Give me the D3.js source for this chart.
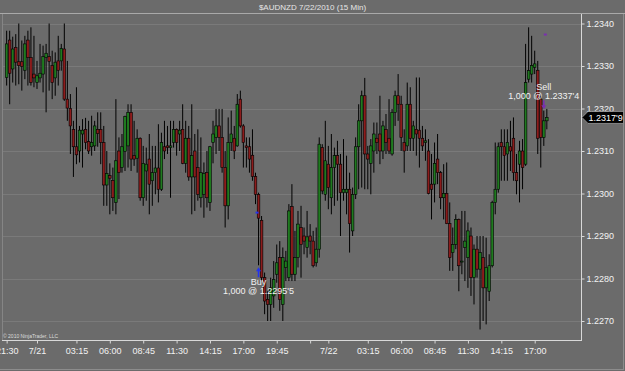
<!DOCTYPE html>
<html>
<head>
<meta charset="utf-8">
<script src="https://cdn.jsdelivr.net/npm/d3@7"></script>
<style>
  body { margin: 0; background: #6b6b6b; }
  svg { display: block; font-family: "Liberation Sans", Arial, sans-serif; }
</style>
</head>
<body>
<div id="chart"></div>
<script>
// 15 min bars, bar 0 = 7/21 00:00
const firstBar = -10

const opens = [
  1.23273, 1.23361, 1.23293, 1.23344, 1.23310, 1.23310, 1.23290, 1.23361, 1.23320, 1.23281,
  1.23261, 1.23272, 1.23281, 1.23320, 1.23322, 1.23301, 1.23272, 1.23312, 1.23312, 1.23340,
  1.23222, 1.23200, 1.23151, 1.23110, 1.23100, 1.23140, 1.23151, 1.23122, 1.23110, 1.23112,
  1.23151, 1.23151, 1.23120, 1.23020, 1.23042, 1.23031, 1.22979, 1.23100, 1.23061, 1.23099,
  1.23112, 1.23191, 1.23089, 1.23083, 1.23130, 1.22990, 1.23053, 1.23081, 1.23030, 1.23049,
  1.23060, 1.23010, 1.23110, 1.23112, 1.23108, 1.23120, 1.23151, 1.23140, 1.23151, 1.23071,
  1.23130, 1.23039, 1.23100, 1.23061, 1.22990, 1.22998, 1.23049, 1.22979, 1.23120, 1.23132,
  1.23159, 1.23132, 1.23061, 1.22971, 1.23120, 1.23130, 1.23112, 1.23222, 1.23159, 1.23112,
  1.23110, 1.23090, 1.23040, 1.22998, 1.22937, 1.22802, 1.22751, 1.22739, 1.22759, 1.22810,
  1.22849, 1.22739, 1.22826, 1.22802, 1.22969, 1.22810, 1.22849, 1.22920, 1.22900, 1.22873,
  1.22900, 1.22888, 1.22837, 1.22869, 1.23108, 1.22998, 1.23069, 1.22990, 1.23061, 1.23089,
  1.23069, 1.23002, 1.23002, 1.23010, 1.22912, 1.22998, 1.23110, 1.23171, 1.23230, 1.23093,
  1.23071, 1.23100, 1.23130, 1.23140, 1.23100, 1.23151, 1.23130, 1.23093, 1.23191, 1.23230,
  1.23210, 1.23120, 1.23112, 1.23210, 1.23130, 1.23151, 1.23149, 1.23130, 1.23120, 1.23100,
  1.23022, 1.23022, 1.23081, 1.23049, 1.22990, 1.23000, 1.22929, 1.22861, 1.22880, 1.22939,
  1.22840, 1.22873, 1.22849, 1.22900, 1.22802, 1.22869, 1.22822, 1.22849, 1.22778, 1.22770,
  1.22830, 1.22979, 1.23010, 1.23120, 1.23110, 1.23093, 1.23110, 1.23130, 1.23049, 1.23069,
  1.23100, 1.23069, 1.23269, 1.23281, 1.23297, 1.23290, 1.23222, 1.23132, 1.23171
]

const highs = [
  1.23383, 1.23383, 1.23369, 1.23375, 1.23400, 1.23360, 1.23371, 1.23383, 1.23391, 1.23371,
  1.23312, 1.23352, 1.23348, 1.23352, 1.23400, 1.23336, 1.23332, 1.23371, 1.23352, 1.23400,
  1.23312, 1.23234, 1.23171, 1.23250, 1.23159, 1.23175, 1.23178, 1.23171, 1.23183, 1.23171,
  1.23191, 1.23191, 1.23159, 1.23100, 1.23071, 1.23061, 1.23222, 1.23132, 1.23140, 1.23183,
  1.23210, 1.23210, 1.23171, 1.23151, 1.23132, 1.23112, 1.23108, 1.23140, 1.23112, 1.23112,
  1.23163, 1.23143, 1.23171, 1.23159, 1.23171, 1.23171, 1.23153, 1.23171, 1.23210, 1.23171,
  1.23159, 1.23210, 1.23140, 1.23151, 1.23132, 1.23073, 1.23100, 1.23112, 1.23171, 1.23199,
  1.23199, 1.23199, 1.23100, 1.23179, 1.23195, 1.23159, 1.23234, 1.23242, 1.23163, 1.23132,
  1.23132, 1.23151, 1.23049, 1.23002, 1.22947, 1.22814, 1.22770, 1.22802, 1.22841, 1.22880,
  1.22888, 1.22873, 1.22865, 1.22975, 1.23022, 1.22912, 1.22959, 1.22971, 1.22920, 1.22959,
  1.22928, 1.22912, 1.22920, 1.23132, 1.23116, 1.23171, 1.23112, 1.23140, 1.23108, 1.23124,
  1.23093, 1.23128, 1.23089, 1.23049, 1.23014, 1.23132, 1.23210, 1.23242, 1.23272, 1.23112,
  1.23128, 1.23167, 1.23167, 1.23230, 1.23171, 1.23187, 1.23222, 1.23199, 1.23242, 1.23281,
  1.23230, 1.23151, 1.23261, 1.23250, 1.23171, 1.23273, 1.23273, 1.23159, 1.23151, 1.23128,
  1.23093, 1.23120, 1.23140, 1.23053, 1.23069, 1.23073, 1.22979, 1.22920, 1.22951, 1.22941,
  1.22959, 1.22959, 1.22932, 1.22920, 1.22880, 1.22900, 1.22900, 1.22900, 1.22896, 1.22857,
  1.22983, 1.23120, 1.23120, 1.23151, 1.23151, 1.23151, 1.23171, 1.23179, 1.23093, 1.23124,
  1.23128, 1.23352, 1.23391, 1.23371, 1.23336, 1.23312, 1.23230, 1.23195, 1.23199
]

const lows = [
  1.23254, 1.23210, 1.23261, 1.23254, 1.23257, 1.23242, 1.23269, 1.23254, 1.23254, 1.23250,
  1.23246, 1.23261, 1.23238, 1.23191, 1.23242, 1.23222, 1.23230, 1.23254, 1.23289, 1.23218,
  1.23171, 1.23093, 1.23039, 1.23069, 1.23073, 1.23061, 1.23104, 1.23093, 1.23089, 1.23100,
  1.23110, 1.23069, 1.22971, 1.22971, 1.22951, 1.22959, 1.22951, 1.22987, 1.23049, 1.23053,
  1.23061, 1.23053, 1.23065, 1.23049, 1.22983, 1.22971, 1.22983, 1.22951, 1.22971, 1.22998,
  1.22979, 1.23006, 1.23081, 1.23093, 1.22990, 1.23108, 1.23089, 1.23100, 1.23069, 1.23049,
  1.23030, 1.22951, 1.22959, 1.22983, 1.22967, 1.22943, 1.22967, 1.22959, 1.23071, 1.23093,
  1.23100, 1.23049, 1.22920, 1.22939, 1.23100, 1.23081, 1.23110, 1.23155, 1.23061, 1.23061,
  1.23049, 1.23030, 1.22975, 1.22831, 1.22794, 1.22716, 1.22700, 1.22700, 1.22731, 1.22790,
  1.22724, 1.22700, 1.22794, 1.22794, 1.22794, 1.22794, 1.22826, 1.22802, 1.22857, 1.22849,
  1.22857, 1.22826, 1.22828, 1.22849, 1.22998, 1.22983, 1.22963, 1.22951, 1.22971, 1.22983,
  1.22900, 1.22983, 1.22951, 1.22861, 1.22900, 1.22987, 1.23010, 1.23014, 1.23010, 1.23010,
  1.22998, 1.23049, 1.23093, 1.23069, 1.23081, 1.23093, 1.23093, 1.23089, 1.23159, 1.23171,
  1.23100, 1.23049, 1.23100, 1.23100, 1.23100, 1.23089, 1.23061, 1.23100, 1.23077, 1.22998,
  1.22939, 1.22979, 1.23022, 1.22963, 1.22939, 1.22928, 1.22818, 1.22818, 1.22869, 1.22770,
  1.22810, 1.22794, 1.22778, 1.22759, 1.22739, 1.22802, 1.22680, 1.22700, 1.22692, 1.22747,
  1.22826, 1.22951, 1.23002, 1.23030, 1.23030, 1.23030, 1.23053, 1.23030, 1.22998, 1.22979,
  1.23010, 1.23065, 1.23261, 1.23261, 1.23281, 1.23093, 1.23061, 1.23112, 1.23151
]

const closes = [
  1.23352, 1.23283, 1.23340, 1.23309, 1.23301, 1.23299, 1.23352, 1.23320, 1.23261, 1.23272,
  1.23277, 1.23283, 1.23322, 1.23330, 1.23311, 1.23261, 1.23309, 1.23290, 1.23341, 1.23222,
  1.23201, 1.23159, 1.23110, 1.23091, 1.23149, 1.23149, 1.23120, 1.23100, 1.23120, 1.23159,
  1.23141, 1.23120, 1.23020, 1.23047, 1.23036, 1.22990, 1.23077, 1.23049, 1.23110, 1.23181,
  1.23191, 1.23081, 1.23081, 1.23130, 1.22990, 1.23071, 1.23069, 1.23022, 1.23049, 1.23060,
  1.23010, 1.23120, 1.23100, 1.23108, 1.23112, 1.23151, 1.23120, 1.23149, 1.23071, 1.23130,
  1.23039, 1.23089, 1.23039, 1.22998, 1.23049, 1.23047, 1.22990, 1.23110, 1.23140, 1.23159,
  1.23132, 1.23061, 1.22971, 1.23120, 1.23140, 1.23100, 1.23210, 1.23159, 1.23120, 1.23108,
  1.23081, 1.23040, 1.22998, 1.22942, 1.22802, 1.22747, 1.22739, 1.22778, 1.22798, 1.22837,
  1.22751, 1.22849, 1.22841, 1.22959, 1.22810, 1.22849, 1.22928, 1.22880, 1.22888, 1.22898,
  1.22888, 1.22830, 1.22869, 1.23116, 1.23006, 1.23077, 1.23014, 1.23061, 1.23089, 1.23069,
  1.23002, 1.23010, 1.23010, 1.22929, 1.22998, 1.23110, 1.23171, 1.23230, 1.23093, 1.23081,
  1.23112, 1.23140, 1.23120, 1.23100, 1.23159, 1.23120, 1.23100, 1.23191, 1.23230, 1.23210,
  1.23132, 1.23100, 1.23210, 1.23130, 1.23159, 1.23140, 1.23130, 1.23112, 1.23124, 1.23000,
  1.23010, 1.23071, 1.23049, 1.22990, 1.23000, 1.22929, 1.22849, 1.22880, 1.22939, 1.22830,
  1.22841, 1.22888, 1.22912, 1.22802, 1.22869, 1.22822, 1.22861, 1.22778, 1.22826, 1.22830,
  1.22979, 1.23010, 1.23110, 1.23110, 1.23089, 1.23120, 1.23100, 1.23049, 1.23030, 1.23100,
  1.23061, 1.23261, 1.23289, 1.23301, 1.23305, 1.23130, 1.23132, 1.23171, 1.23179
]

// time axis (bar index -> label)
const timeBars = [-10, 0, 13, 24, 35, 46, 57, 68, 79, 90, 96, 109, 120, 131, 142, 153, 164]
const timeLabels = ['21:30', '7/21', '03:15', '06:00', '08:45', '11:30', '14:15', '17:00', '19:45', '',
  '7/22', '03:15', '06:00', '08:45', '11:30', '14:15', '17:00']

const priceTicks = [1.2270, 1.2280, 1.2290, 1.2300, 1.2310, 1.2320, 1.2330, 1.2340]

// executions
const tradeNames = ['Buy', 'Sell']
const tradeBars = [73, 167]
const tradePrices = [1.22955, 1.23374]
const tradeQty = [1000, 1000]

const lastPrice = 1.23179

const W = 625
const H = 371
const plotLeft = 2
const plotRight = 581
const plotTop = 14
const plotBottom = 340

const fmt5 = (p) => {
  const s = p.toFixed(5)
  return s.slice(0, 6) + "'" + s.slice(6)
}

const drawSvg = () => {
  const n = Math.min(opens.length, highs.length, lows.length, closes.length)
  const bars = d3.range(n).map(i => ({
    bar: firstBar + i, o: opens[i], h: highs[i], l: lows[i], c: closes[i]
  }))

  const svg = d3.select('#chart')
    .append('svg')
    .attr('width', W)
    .attr('height', H)

  svg.append('rect')
    .attr('width', W)
    .attr('height', H)
    .attr('fill', '#6b6b6b')

  const xScale = d3.scaleLinear()
    .domain([0, 164])
    .range([37, 534.7])

  const yScale = d3.scaleLinear()
    .domain([1.2270, 1.2340])
    .range([321, 23.5])

  // title
  svg.append('text')
    .attr('x', W / 2)
    .attr('y', 9.5)
    .attr('text-anchor', 'middle')
    .attr('font-size', '8px')
    .attr('fill', '#e6e6e6')
    .text('$AUDNZD  7/22/2010 (15 Min)')

  svg.append('line')
    .attr('x1', 0).attr('x2', W)
    .attr('y1', 13.5).attr('y2', 13.5)
    .attr('stroke', '#a9a9a9')

  // outer frame
  svg.append('line')
    .attr('x1', 623.5).attr('x2', 623.5)
    .attr('y1', 14).attr('y2', 369)
    .attr('stroke', '#8c8c8c')
  svg.append('line')
    .attr('x1', 0).attr('x2', 624)
    .attr('y1', 369.5).attr('y2', 369.5)
    .attr('stroke', '#8c8c8c')

  svg.append('line')
    .attr('x1', plotLeft + 0.5).attr('x2', plotLeft + 0.5)
    .attr('y1', plotTop).attr('y2', plotBottom)
    .attr('stroke', '#858585')

  // grid
  svg.append('g')
    .selectAll('line')
    .data(priceTicks)
    .enter()
    .append('line')
    .attr('x1', plotLeft + 1)
    .attr('x2', plotRight)
    .attr('y1', d => Math.round(yScale(d)) + 0.5)
    .attr('y2', d => Math.round(yScale(d)) + 0.5)
    .attr('stroke', '#7a7a7a')

  svg.append('defs').append('clipPath')
    .attr('id', 'plot')
    .append('rect')
    .attr('x', plotLeft + 1)
    .attr('y', plotTop)
    .attr('width', plotRight - plotLeft - 1)
    .attr('height', plotBottom - plotTop)

  const plot = svg.append('g').attr('clip-path', 'url(#plot)')

  // wicks
  plot.selectAll('line.wick')
    .data(bars)
    .enter()
    .append('line')
    .attr('class', 'wick')
    .attr('x1', d => xScale(d.bar))
    .attr('x2', d => xScale(d.bar))
    .attr('y1', d => yScale(d.h))
    .attr('y2', d => yScale(d.l))
    .attr('stroke', '#000')
    .attr('stroke-width', 1)

  // bodies
  plot.selectAll('rect.body')
    .data(bars)
    .enter()
    .append('rect')
    .attr('class', 'body')
    .attr('x', d => xScale(d.bar) - 1.3)
    .attr('width', 2.6)
    .attr('y', d => yScale(Math.max(d.o, d.c)))
    .attr('height', d => Math.max(1, Math.abs(yScale(d.o) - yScale(d.c))))
    .attr('fill', d => d.c >= d.o ? '#1f7a1f' : '#8c1c1c')
    .attr('stroke', '#000')
    .attr('stroke-width', 0.6)

  // executions
  tradeNames.forEach((name, i) => {
    const b = bars.find(e => e.bar === tradeBars[i])
    const cx = xScale(tradeBars[i])
    const isBuy = name === 'Buy'
    const col = isBuy ? '#2233ee' : '#7a2fb0'

    plot.append('rect')
      .attr('x', isBuy ? cx - 3 : cx)
      .attr('y', yScale(tradePrices[i]) - 1)
      .attr('width', 3)
      .attr('height', 2)
      .attr('fill', col)

    const label = d3.format(',')(tradeQty[i]) + ' @ ' + fmt5(tradePrices[i])
    if (isBuy) {
      const y0 = yScale(b.l) + 2
      plot.append('path')
        .attr('d', `M${cx},${y0} L${cx + 2.5},${y0 + 4} L${cx + 0.8},${y0 + 4} L${cx + 0.8},${y0 + 10} L${cx - 0.8},${y0 + 10} L${cx - 0.8},${y0 + 4} L${cx - 2.5},${y0 + 4} Z`)
        .attr('fill', col)
      svg.append('text')
        .attr('x', cx).attr('y', y0 + 18)
        .attr('text-anchor', 'middle')
        .attr('font-size', '9px')
        .attr('fill', '#f2f2f2')
        .text(name)
      svg.append('text')
        .attr('x', cx).attr('y', y0 + 26.5)
        .attr('text-anchor', 'middle')
        .attr('font-size', '9px')
        .attr('fill', '#f2f2f2')
        .text(label)
    } else {
      const y0 = yScale(b.h) - 1.5
      plot.append('path')
        .attr('d', `M${cx},${y0} L${cx + 2.5},${y0 - 4} L${cx + 0.8},${y0 - 4} L${cx + 0.8},${y0 - 9} L${cx - 0.8},${y0 - 9} L${cx - 0.8},${y0 - 4} L${cx - 2.5},${y0 - 4} Z`)
        .attr('fill', col)
      svg.append('text')
        .attr('x', cx).attr('y', y0 - 10.5)
        .attr('text-anchor', 'middle')
        .attr('font-size', '9px')
        .attr('fill', '#f2f2f2')
        .text(label)
      svg.append('text')
        .attr('x', cx).attr('y', y0 - 19.5)
        .attr('text-anchor', 'middle')
        .attr('font-size', '9px')
        .attr('fill', '#f2f2f2')
        .text(name)
    }
  })

  svg.append('text')
    .attr('x', 3)
    .attr('y', 337.5)
    .attr('font-size', '5px')
    .attr('fill', '#dcdcdc')
    .text('© 2010 NinjaTrader, LLC')

  // x axis
  const xAxis = d3.axisBottom()
    .scale(xScale)
    .tickValues(timeBars)
    .tickFormat((d, i) => timeLabels[i])
    .tickSize(3)
    .tickPadding(4)

  const gx = svg.append('g')
    .attr('transform', 'translate(0,' + (plotBottom + 0.5) + ')')
    .call(xAxis)
  gx.select('.domain').remove()
  gx.selectAll('line').attr('stroke', '#d8d8d8')
  gx.selectAll('text')
    .attr('fill', '#f2f2f2')
    .attr('font-size', '9px')
    .attr('font-family', '"Liberation Sans", Arial, sans-serif')

  svg.append('line')
    .attr('x1', plotLeft).attr('x2', plotRight + 1)
    .attr('y1', plotBottom + 0.5).attr('y2', plotBottom + 0.5)
    .attr('stroke', '#d8d8d8')

  // y axis
  const yAxis = d3.axisRight()
    .scale(yScale)
    .tickValues(priceTicks)
    .tickFormat(d3.format('.4f'))
    .tickSize(3)
    .tickPadding(2)

  const gy = svg.append('g')
    .attr('transform', 'translate(' + (plotRight + 0.5) + ',0)')
    .call(yAxis)
  gy.select('.domain').remove()
  gy.selectAll('line').attr('stroke', '#d8d8d8')
  gy.selectAll('text')
    .attr('fill', '#f2f2f2')
    .attr('font-size', '9px')
    .attr('font-family', '"Liberation Sans", Arial, sans-serif')

  svg.append('line')
    .attr('x1', plotRight + 0.5).attr('x2', plotRight + 0.5)
    .attr('y1', plotTop).attr('y2', plotBottom + 1)
    .attr('stroke', '#d8d8d8')

  // last price marker
  const ly = yScale(lastPrice)
  svg.append('path')
    .attr('d', `M${plotRight + 1},${ly} L${plotRight + 7},${ly - 6} L${W - 1.5},${ly - 6} L${W - 1.5},${ly + 6} L${plotRight + 7},${ly + 6} Z`)
    .attr('fill', '#000')
    .attr('stroke', '#bdbdbd')
    .attr('stroke-width', 0.6)
  svg.append('text')
    .attr('x', plotRight + 7.5)
    .attr('y', ly + 3.3)
    .attr('font-size', '9px')
    .attr('fill', '#fff')
    .text(fmt5(lastPrice))
}

drawSvg()
</script>
</body>
</html>
